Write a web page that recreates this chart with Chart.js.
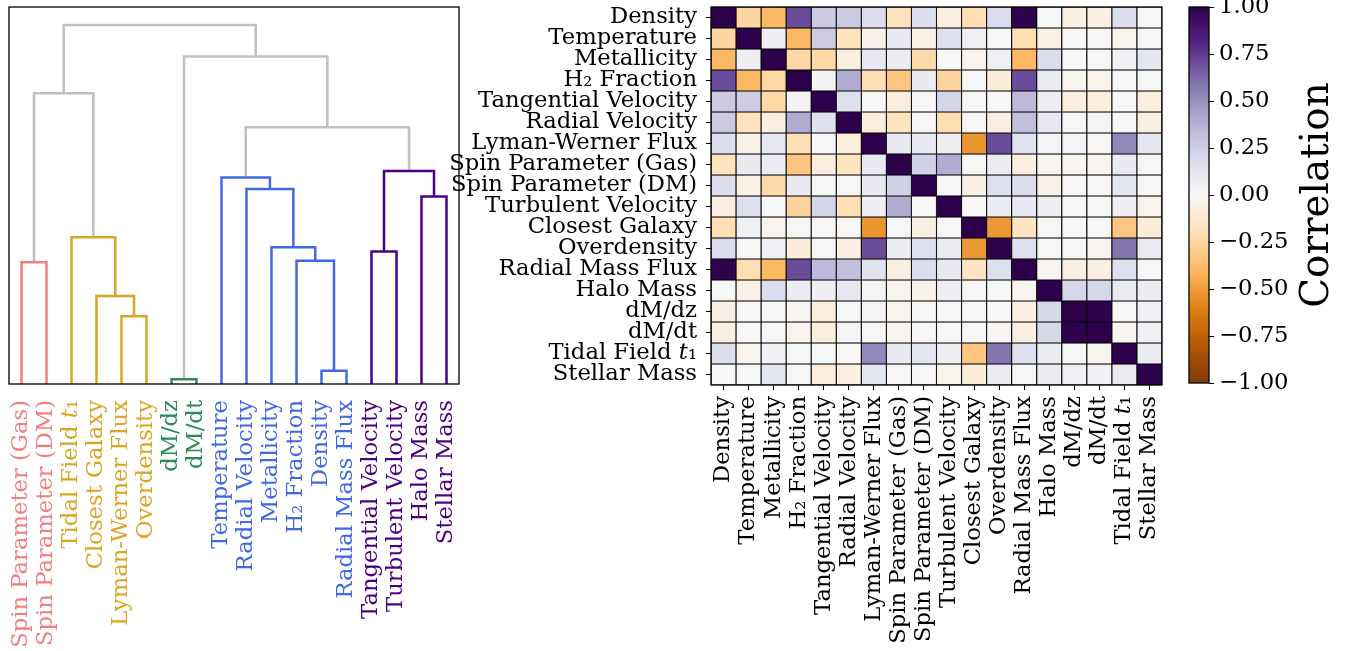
<!DOCTYPE html>
<html>
<head>
<meta charset="utf-8">
<script src="https://cdn.jsdelivr.net/npm/chart.js@4.4.1/dist/chart.umd.min.js"></script>
<style>
  html, body { margin: 0; padding: 0; background: #fff; }
  #wrap { position: relative; width: 1353px; height: 651px; overflow: hidden; }
  .box { position: absolute; top: 0; height: 651px; }
</style>
</head>
<body>
<div id="wrap">
  <div class="box" style="left:0;width:470px"><canvas id="dendroChart"></canvas></div>
  <div class="box" style="left:430px;width:740px"><canvas id="heatChart"></canvas></div>
  <div class="box" style="left:1170px;width:183px"><canvas id="cbarChart"></canvas></div>
</div>
<script>
// dendrogram leaves, left to right
const leafNames = ['Spin Parameter (Gas)', 'Spin Parameter (DM)', 'Tidal Field 𝑡₁', 'Closest Galaxy',
    'Lyman-Werner Flux', 'Overdensity', 'dM/dz', 'dM/dt', 'Temperature', 'Radial Velocity',
    'Metallicity', 'H₂ Fraction', 'Density', 'Radial Mass Flux', 'Tangential Velocity',
    'Turbulent Velocity', 'Halo Mass', 'Stellar Mass'];
const leafClusters = [0, 0, 1, 1, 1, 1, 2, 2, 3, 3, 3, 3, 3, 3, 4, 4, 4, 4];
const clusterColors = ['#f08080', '#daa520', '#2e8b57', '#4169e1', '#4b0082'];
const linkGray = '#c0c0c0';

// merges: node ids < 18 are leaves, 18 + k is the k-th merge
const mergeLeft = [6, 12, 4, 3, 0, 11, 14, 10, 2, 16, 9, 8, 24, 29, 22, 18, 32];
const mergeRight = [7, 13, 5, 20, 1, 19, 15, 23, 21, 17, 25, 28, 27, 30, 26, 31, 33];
const mergeHeights = [0.013, 0.037, 0.189, 0.245, 0.339, 0.343, 0.369, 0.381, 0.409,
    0.522, 0.543, 0.575, 0.593, 0.715, 0.810, 0.912, 1.000];

// correlation matrix
const heatNames = ['Density', 'Temperature', 'Metallicity', 'H₂ Fraction', 'Tangential Velocity',
    'Radial Velocity', 'Lyman-Werner Flux', 'Spin Parameter (Gas)', 'Spin Parameter (DM)',
    'Turbulent Velocity', 'Closest Galaxy', 'Overdensity', 'Radial Mass Flux', 'Halo Mass',
    'dM/dz', 'dM/dt', 'Tidal Field 𝑡₁', 'Stellar Mass'];
const corr = [
    [1, -0.25, -0.40, 0.70, 0.27, 0.27, 0.17, -0.18, 0.17, -0.06, -0.21, 0.19, 0.99, 0.01, -0.06, -0.06, 0.17, 0.01],
    [-0.25, 1, 0.06, -0.40, 0.26, -0.18, -0.04, 0.10, -0.05, 0.16, 0.05, -0.01, -0.21, -0.05, -0.01, -0.01, -0.03, 0.01],
    [-0.40, 0.06, 1, -0.24, -0.24, -0.07, 0.11, 0.08, -0.23, 0.00, -0.03, 0.05, -0.40, 0.17, 0.00, 0.01, 0.04, 0.12],
    [0.70, -0.40, -0.24, 1, 0.03, 0.40, -0.20, -0.33, 0.09, -0.26, 0.01, -0.09, 0.70, 0.07, -0.02, -0.03, 0.01, 0.01],
    [0.27, 0.26, -0.24, 0.03, 1, 0.15, 0.00, -0.08, -0.01, 0.22, -0.01, 0.00, 0.34, 0.06, -0.08, -0.08, 0.01, -0.08],
    [0.27, -0.18, -0.07, 0.40, 0.15, 1, -0.08, -0.17, -0.01, -0.21, -0.01, -0.06, 0.31, 0.11, 0.01, 0.02, -0.01, -0.06],
    [0.17, -0.04, 0.11, -0.20, 0.00, -0.08, 1, 0.10, 0.10, 0.06, -0.53, 0.70, 0.14, 0.02, 0.02, -0.01, 0.53, 0.12],
    [-0.18, 0.10, 0.08, -0.33, -0.08, -0.17, 0.10, 1, 0.24, 0.40, 0.01, 0.08, -0.06, -0.02, -0.02, -0.02, 0.10, -0.01],
    [0.17, -0.05, -0.23, 0.09, -0.01, -0.01, 0.10, 0.24, 1, 0.00, -0.06, 0.16, 0.17, -0.04, -0.01, -0.01, 0.12, -0.01],
    [-0.06, 0.16, 0.00, -0.26, 0.22, -0.21, 0.06, 0.40, 0.00, 1, 0.00, 0.08, 0.10, 0.06, 0.01, 0.01, 0.06, -0.03],
    [-0.21, 0.05, -0.03, 0.01, -0.01, -0.01, -0.53, 0.01, -0.06, 0.00, 1, -0.52, -0.16, -0.01, 0.00, 0.01, -0.33, -0.09],
    [0.19, -0.01, 0.05, -0.09, 0.00, -0.06, 0.70, 0.08, 0.16, 0.08, -0.52, 1, 0.16, 0.01, 0.00, -0.02, 0.59, 0.08],
    [0.99, -0.21, -0.40, 0.70, 0.34, 0.31, 0.14, -0.06, 0.17, 0.10, -0.16, 0.16, 1, -0.02, -0.06, -0.06, 0.16, 0.00],
    [0.01, -0.05, 0.17, 0.07, 0.06, 0.11, 0.02, -0.02, -0.04, 0.06, -0.01, 0.01, -0.02, 1, 0.21, 0.21, 0.08, 0.08],
    [-0.06, -0.01, 0.00, -0.02, -0.08, 0.01, 0.02, -0.02, -0.01, 0.01, 0.00, 0.00, -0.06, 0.21, 1, 0.99, 0.01, 0.05],
    [-0.06, -0.01, 0.01, -0.03, -0.08, 0.02, -0.01, -0.02, -0.01, 0.01, 0.01, -0.02, -0.06, 0.21, 0.99, 1, -0.02, 0.04],
    [0.17, -0.03, 0.04, 0.01, 0.01, -0.01, 0.53, 0.10, 0.12, 0.06, -0.33, 0.59, 0.16, 0.08, 0.01, -0.02, 1, 0.08],
    [0.01, 0.01, 0.12, 0.01, -0.08, -0.06, 0.12, -0.01, -0.01, -0.03, -0.09, 0.08, 0.00, 0.08, 0.05, 0.04, 0.08, 1]
];
const cbarTicks = [-1, -0.75, -0.5, -0.25, 0, 0.25, 0.5, 0.75, 1];

// matplotlib PuOr
const puorStops = ['#7f3b08', '#b35806', '#e08214', '#fdb863', '#fee0b6', '#f7f7f7',
    '#d8daeb', '#b2abd2', '#8073ac', '#542788', '#2d004b'];
const hexRgb = (h) => [1, 3, 5].map(i => parseInt(h.slice(i, i + 2), 16));
const puor = (v) => {
    const t = Math.max(0, Math.min(1, (v + 1) / 2)) * 10;
    const i = Math.min(9, Math.floor(t));
    const f = t - i;
    const a = hexRgb(puorStops[i]), b = hexRgb(puorStops[i + 1]);
    const c = a.map((x, k) => Math.round(x + (b[k] - x) * f));
    return `rgb(${c[0]},${c[1]},${c[2]})`;
};

const fontFamily = "'DejaVu Serif', serif";
const labelFont = { family: fontFamily, size: 22.7 };

Chart.defaults.font.family = fontFamily;
Chart.defaults.font.size = 22.7;
Chart.defaults.color = '#000';
Chart.defaults.animation = false;
Chart.defaults.plugins.legend.display = false;
Chart.defaults.plugins.tooltip.enabled = false;

// keep the plot area where the layout padding puts it (no extra room for edge labels)
const noEdgePadding = (s) => {
    s.paddingLeft = 0;
    s.paddingRight = 0;
    s.paddingTop = 0;
    s.paddingBottom = 0;
};

const framePlugin = {
    id: 'frame',
    afterDraw(chart) {
        const { ctx, chartArea: a } = chart;
        ctx.save();
        ctx.strokeStyle = '#000';
        ctx.lineWidth = 1.3;
        ctx.strokeRect(a.left, a.top, a.right - a.left, a.bottom - a.top);
        ctx.restore();
    }
};

// ---- dendrogram ----
const nodeX = leafNames.map((_, i) => 10 * i + 5);
const nodeH = leafNames.map(() => 0);
const nodeColor = leafClusters.map(c => clusterColors[c]);
const linkSets = mergeHeights.map((h, k) => {
    const a = mergeLeft[k], b = mergeRight[k];
    const color = nodeColor[a] === nodeColor[b] ? nodeColor[a] : linkGray;
    const set = {
        data: [
            { x: nodeX[a], y: nodeH[a] }, { x: nodeX[a], y: h },
            { x: nodeX[b], y: h }, { x: nodeX[b], y: nodeH[b] }
        ],
        borderColor: color,
        borderWidth: 2.5,
        showLine: true,
        pointRadius: 0,
        tension: 0,
    };
    nodeX.push((nodeX[a] + nodeX[b]) / 2);
    nodeH.push(h);
    nodeColor.push(color);
    return set;
});

new Chart(document.getElementById('dendroChart'), {
    type: 'scatter',
    data: { datasets: linkSets },
    options: {
        responsive: true,
        maintainAspectRatio: false,
        layout: { padding: { left: 9, right: 11, top: 7, bottom: 0 } },
        scales: {
            x: {
                type: 'linear',
                min: 0,
                max: leafNames.length * 10,
                grid: { display: false },
                border: { display: false },
                afterBuildTicks: (s) => { s.ticks = leafNames.map((_, i) => ({ value: 10 * i + 5 })); },
                afterFit: (s) => { s.height = 267; noEdgePadding(s); },
                ticks: {
                    autoSkip: false,
                    minRotation: 90,
                    maxRotation: 90,
                    padding: 8,
                    font: labelFont,
                    callback: (v, i) => leafNames[i],
                    color: (ctx) => clusterColors[leafClusters[ctx.index]],
                }
            },
            y: {
                display: false,
                min: 0,
                max: 1.05 * Math.max(...mergeHeights),
            }
        }
    },
    plugins: [framePlugin]
});

// ---- heatmap ----
const heatSets = heatNames.map((name, i) => ({
    label: name,
    data: heatNames.map(() => 1),
    backgroundColor: corr[i].map(puor),
    borderColor: '#000',
    borderWidth: 0.9,
    borderSkipped: false,
    barPercentage: 1,
    categoryPercentage: 1,
}));

new Chart(document.getElementById('heatChart'), {
    type: 'bar',
    data: { labels: heatNames, datasets: heatSets },
    options: {
        responsive: true,
        maintainAspectRatio: false,
        layout: { padding: { left: 0, right: 8, top: 7, bottom: 0 } },
        scales: {
            x: {
                stacked: true,
                grid: { offset: false, drawOnChartArea: false, drawTicks: true, tickLength: 5, color: '#000', lineWidth: 1 },
                border: { display: false },
                afterFit: (s) => { s.height = 266; noEdgePadding(s); },
                ticks: { autoSkip: false, minRotation: 90, maxRotation: 90, padding: 6, font: labelFont }
            },
            y: {
                type: 'linear',
                stacked: true,
                min: 0,
                max: heatNames.length,
                reverse: true,
                grid: { drawOnChartArea: false, drawTicks: true, tickLength: 5, color: '#000', lineWidth: 1 },
                border: { display: false },
                afterBuildTicks: (s) => { s.ticks = heatNames.map((_, i) => ({ value: i + 0.5 })); },
                afterFit: (s) => { s.width = 281; noEdgePadding(s); },
                ticks: { autoSkip: false, padding: 9, font: labelFont, callback: (v, i) => heatNames[i] }
            }
        }
    },
    plugins: [framePlugin]
});

// ---- colorbar ----
const cbarLabel = {
    id: 'cbarLabel',
    afterDraw(chart) {
        const { ctx, chartArea: a } = chart;
        ctx.save();
        ctx.translate(148, (a.top + a.bottom) / 2);
        ctx.rotate(-Math.PI / 2);
        ctx.font = "38.9px 'DejaVu Serif'";
        ctx.fillStyle = '#000';
        ctx.textAlign = 'center';
        ctx.textBaseline = 'middle';
        ctx.fillText('Correlation', 0, 0);
        ctx.restore();
    }
};

new Chart(document.getElementById('cbarChart'), {
    type: 'bar',
    data: {
        labels: ['Correlation'],
        datasets: [{
            data: [[cbarTicks[0], cbarTicks[cbarTicks.length - 1]]],
            barPercentage: 1,
            categoryPercentage: 1,
            borderWidth: 0,
            backgroundColor: (ctx) => {
                const { chart } = ctx;
                const a = chart.chartArea;
                if (!a) return puorStops[5];
                const g = chart.ctx.createLinearGradient(0, a.bottom, 0, a.top);
                puorStops.forEach((c, k) => g.addColorStop(k / 10, c));
                return g;
            }
        }]
    },
    options: {
        responsive: true,
        maintainAspectRatio: false,
        layout: { padding: { left: 19, right: 0, top: 7, bottom: 268 } },
        scales: {
            x: { display: false },
            y: {
                position: 'right',
                min: -1,
                max: 1,
                grid: { drawOnChartArea: false, drawTicks: true, tickLength: 5, color: '#000' },
                border: { display: false },
                afterBuildTicks: (s) => { s.ticks = cbarTicks.map(v => ({ value: v })); },
                afterFit: (s) => { s.width = 144; noEdgePadding(s); },
                ticks: {
                    padding: 5,
                    font: labelFont,
                    callback: (v) => (v < 0 ? '−' : '') + Math.abs(v).toFixed(2)
                }
            }
        }
    },
    plugins: [framePlugin, cbarLabel]
});
</script>
</body>
</html>
